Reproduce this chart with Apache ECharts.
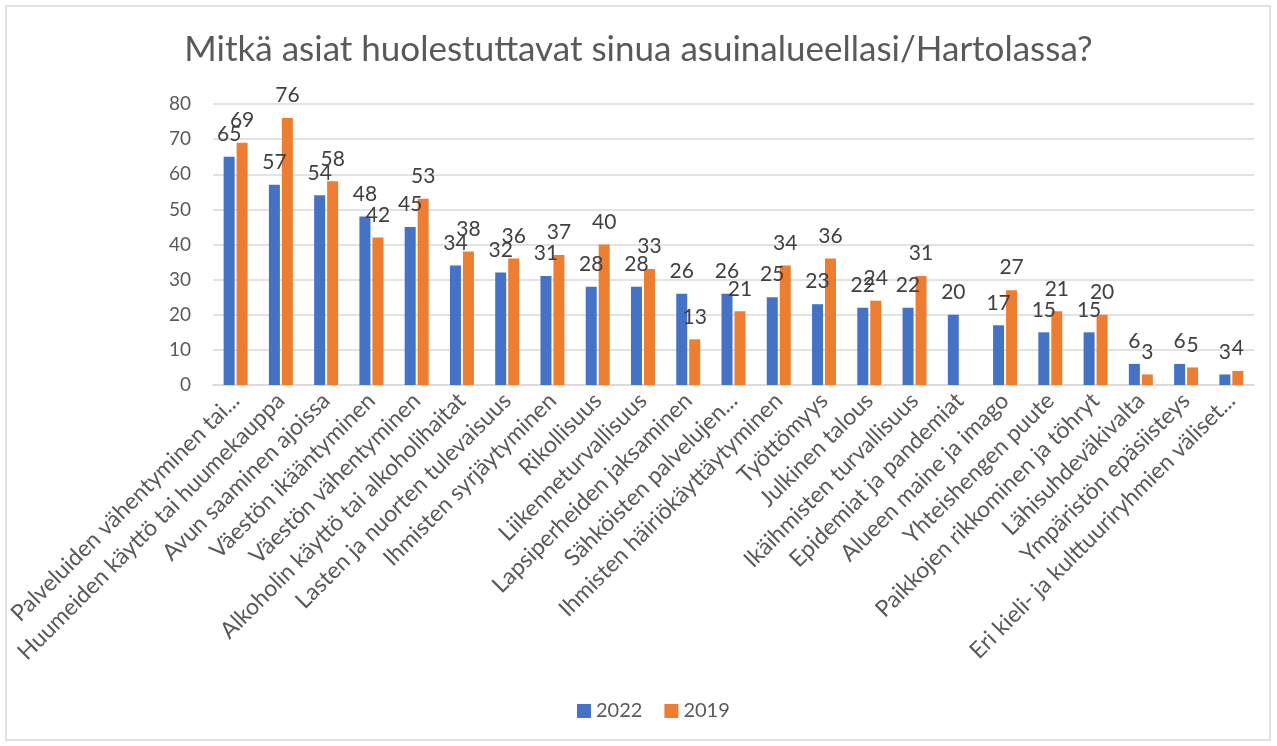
<!DOCTYPE html>
<html>
<head>
<meta charset="utf-8">
<script src="https://cdn.jsdelivr.net/npm/echarts@6/dist/echarts.min.js"></script>
<style>
  html, body { margin: 0; padding: 0; background: #fff; }
  #main { width: 1277px; height: 746px; }
</style>
</head>
<body>
<div id="main"></div>
<script>
var categories = [
  'Palveluiden vähentyminen tai...',
  'Huumeiden käyttö tai huumekauppa',
  'Avun saaminen ajoissa',
  'Väestön ikääntyminen',
  'Väestön vähentyminen',
  'Alkoholin käyttö tai alkoholihaitat',
  'Lasten ja nuorten tulevaisuus',
  'Ihmisten syrjäytyminen',
  'Rikollisuus',
  'Liikenneturvallisuus',
  'Lapsiperheiden jaksaminen',
  'Sähköisten palvelujen...',
  'Ihmisten häiriökäyttäytyminen',
  'Työttömyys',
  'Julkinen talous',
  'Ikäihmisten turvallisuus',
  'Epidemiat ja pandemiat',
  'Alueen maine ja imago',
  'Yhteishengen puute',
  'Paikkojen rikkominen ja töhryt',
  'Lähisuhdeväkivalta',
  'Ympäristön epäsiisteys',
  'Eri kieli- ja kulttuuriryhmien väliset...'
];
var values2022 = [65, 57, 54, 48, 45, 34, 32, 31, 28, 28, 26, 26, 25, 23, 22, 22, 20, 17, 15, 15, 6, 6, 3];
var values2019 = [69, 76, 58, 42, 53, 38, 36, 37, 40, 33, 13, 21, 34, 36, 24, 31, null, 27, 21, 20, 3, 5, 4];
var yTicks = { min: 0, max: 80, interval: 10 };

var font = 'Lato, "Open Sans", sans-serif';
var chart = echarts.init(document.getElementById('main'));

var labelStyle = {
  show: true,
  position: 'top',
  distance: 12,
  color: '#404040',
  fontSize: 21,
  fontFamily: font
};

chart.setOption({
  animation: false,
  title: {
    text: 'Mitkä asiat huolestuttavat sinua asuinalueellasi/Hartolassa?',
    left: 'center',
    top: 27,
    textStyle: { color: '#595959', fontSize: 35, fontWeight: 'normal', fontFamily: font }
  },
  graphic: [{
    type: 'rect',
    shape: { x: 6, y: 6, width: 1264, height: 734 },
    style: { fill: 'none', stroke: '#d9d9d9', lineWidth: 1.5 },
    silent: true
  }],
  legend: {
    bottom: 20,
    left: 572,
    itemWidth: 14,
    itemHeight: 14,
    itemGap: 22,
    icon: 'rect',
    textStyle: { color: '#595959', fontSize: 20, fontFamily: font },
    data: ['2022', '2019']
  },
  grid: { left: 213, right: 23, top: 104, bottom: 361 },
  xAxis: {
    type: 'category',
    data: categories,
    axisLine: { lineStyle: { color: '#d9d9d9', width: 1.5 } },
    axisTick: { show: false },
    axisLabel: {
      interval: 0,
      rotate: 45,
      color: '#595959',
      fontSize: 23,
      fontFamily: font,
      margin: 12
    }
  },
  yAxis: {
    type: 'value',
    min: yTicks.min,
    max: yTicks.max,
    interval: yTicks.interval,
    axisLine: { show: false },
    axisTick: { show: false },
    splitLine: { lineStyle: { color: '#d9d9d9', width: 1.5 } },
    axisLabel: { color: '#595959', fontSize: 19, fontFamily: font, margin: 22 }
  },
  series: [{
    name: '2022',
    type: 'bar',
    data: values2022,
    barWidth: 11,
    barGap: '18%',
    itemStyle: { color: '#4472C4' },
    label: labelStyle
  }, {
    name: '2019',
    type: 'bar',
    data: values2019,
    barWidth: 11,
    barGap: '18%',
    itemStyle: { color: '#ED7D31' },
    label: labelStyle
  }]
});
</script>
</body>
</html>
